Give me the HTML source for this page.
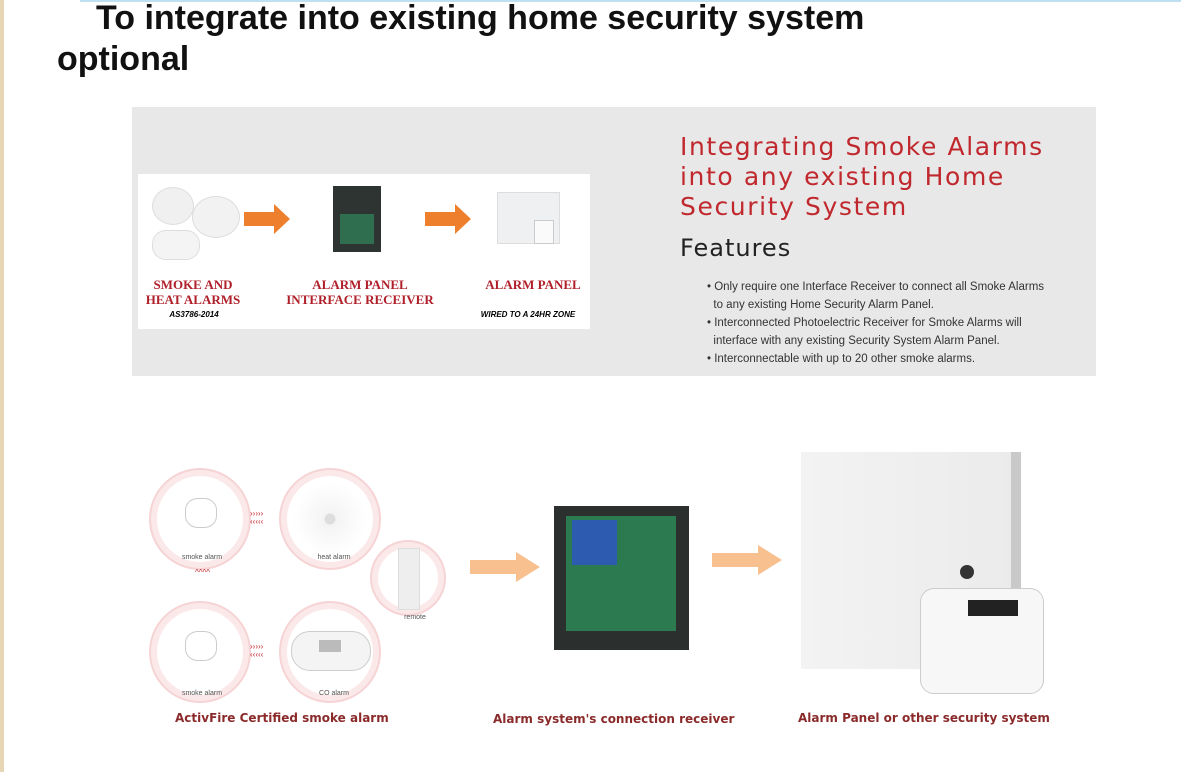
<!DOCTYPE html>
<html><head><meta charset="utf-8"><style>
body{margin:0;width:1181px;height:772px;background:#fff;position:relative;overflow:hidden;font-family:"Liberation Sans",sans-serif}
.a{position:absolute}
.t{font-weight:bold;font-size:34px;color:#111}
.red{color:#c0282d}
.cap{font-size:12px;font-weight:bold;color:#8b2a2a;font-family:"DejaVu Sans","Liberation Sans",sans-serif}
.circ{position:absolute;border-radius:50%;background:#fff;box-shadow:0 0 0 6px #fbe9ea,0 0 0 8px #f6d3d5}
.lbl{position:absolute;font-size:7px;color:#555;width:100px;text-align:center}
.ser{font-family:"Liberation Serif",serif;font-weight:bold;color:#b0202a;font-size:13px;text-align:center}
.bul{font-size:11.5px;color:#333;line-height:18px}
</style></head><body>
<div class="a" style="left:0;top:0;width:4px;height:772px;background:#e6d6b6"></div>
<div class="a" style="left:80px;top:0;width:1101px;height:2px;background:#bfe0f0"></div>
<div class="a t" style="left:96px;top:-1px">To integrate into existing home security system</div>
<div class="a t" style="left:57px;top:40px">optional</div>

<div class="a" style="left:132px;top:107px;width:964px;height:269px;background:#e8e8e8"></div>
<div class="a" style="left:138px;top:174px;width:452px;height:155px;background:#fff"></div>
<div class="a" style="left:152px;top:187px;width:40px;height:36px;border-radius:50%;background:#f0f0f0;border:1px solid #ddd"></div>
<div class="a" style="left:192px;top:196px;width:46px;height:40px;border-radius:50%;background:#f2f2f2;border:1px solid #ddd"></div>
<div class="a" style="left:152px;top:230px;width:46px;height:28px;border-radius:14px;background:#f4f4f4;border:1px solid #ddd"></div>
<svg class="a" style="left:244px;top:204px" width="48" height="30"><polygon points="0,8 30,8 30,0 46,15 30,30 30,22 0,22" fill="#ee7f2d"/></svg>
<svg class="a" style="left:425px;top:204px" width="48" height="30"><polygon points="0,8 30,8 30,0 46,15 30,30 30,22 0,22" fill="#ee7f2d"/></svg>
<div class="a" style="left:333px;top:186px;width:48px;height:66px;background:#2d3432"></div>
<div class="a" style="left:340px;top:214px;width:34px;height:30px;background:#2f6f4f"></div>
<div class="a" style="left:497px;top:192px;width:61px;height:50px;background:#eef0f2;border:1px solid #ddd"></div>
<div class="a" style="left:534px;top:220px;width:18px;height:22px;background:#fafafa;border:1px solid #ccc"></div>
<div class="a ser" style="left:138px;top:277px;width:110px;line-height:15px">SMOKE AND<br>HEAT ALARMS</div>
<div class="a" style="left:138px;top:310px;width:112px;text-align:center;font-size:8px;font-weight:bold;font-style:italic">AS3786-2014</div>
<div class="a ser" style="left:276px;top:277px;width:168px;line-height:15px">ALARM PANEL<br>INTERFACE RECEIVER</div>
<div class="a ser" style="left:478px;top:277px;width:110px">ALARM PANEL</div>
<div class="a" style="left:468px;top:310px;width:120px;text-align:center;font-size:8px;font-weight:bold;font-style:italic">WIRED TO A 24HR ZONE</div>

<div class="a red" style="left:680px;top:132px;font-size:25px;line-height:30px;letter-spacing:1.6px;font-family:'DejaVu Sans',sans-serif">Integrating Smoke Alarms<br>into any existing Home<br>Security System</div>
<div class="a" style="left:680px;top:234px;font-size:24px;color:#222;letter-spacing:1px;font-family:'DejaVu Sans',sans-serif">Features</div>
<div class="a bul" style="left:707px;top:278px;width:380px">
• Only require one Interface Receiver to connect all Smoke Alarms<br>&nbsp;&nbsp;to any existing Home Security Alarm Panel.<br>
• Interconnected Photoelectric Receiver for Smoke Alarms will<br>&nbsp;&nbsp;interface with any existing Security System Alarm Panel.<br>
• Interconnectable with up to 20 other smoke alarms.</div>

<div class="circ" style="left:157px;top:476px;width:86px;height:86px"></div>
<div class="circ" style="left:287px;top:476px;width:86px;height:86px;background:radial-gradient(circle,#ddd 8%,#f4f4f4 10%,#fff 60%)"></div>
<div class="circ" style="left:157px;top:609px;width:86px;height:86px"></div>
<div class="circ" style="left:287px;top:609px;width:86px;height:86px"></div>
<div class="circ" style="left:378px;top:548px;width:60px;height:60px"></div>
<div class="a" style="left:398px;top:548px;width:20px;height:60px;background:#eee;border:1px solid #ddd"></div>
<div class="a" style="left:185px;top:498px;width:30px;height:28px;border:1px solid #ccc;border-radius:40%"></div>
<div class="a" style="left:185px;top:631px;width:30px;height:28px;border:1px solid #ccc;border-radius:40%"></div>
<div class="a" style="left:291px;top:631px;width:78px;height:38px;border-radius:19px;background:#f4f4f4;border:1px solid #ccc"></div>
<div class="a" style="left:319px;top:640px;width:22px;height:12px;background:#bbb"></div>
<div class="a red" style="left:250px;top:510px;font-size:8px;line-height:8px">›››››<br>‹‹‹‹‹</div>
<div class="a red" style="left:250px;top:643px;font-size:8px;line-height:8px">›››››<br>‹‹‹‹‹</div>
<div class="a red" style="left:195px;top:570px;font-size:8px;line-height:6px;width:10px">^^^^</div>
<div class="lbl" style="left:152px;top:554px">smoke alarm</div>
<div class="lbl" style="left:284px;top:554px">heat alarm</div>
<div class="lbl" style="left:152px;top:690px">smoke alarm</div>
<div class="lbl" style="left:284px;top:690px">CO alarm</div>
<div class="lbl" style="left:365px;top:614px">remote</div>
<div class="a cap" style="left:175px;top:711px">ActivFire Certified smoke alarm</div>

<svg class="a" style="left:470px;top:552px" width="72" height="30"><polygon points="0,8 46,8 46,0 70,15 46,30 46,22 0,22" fill="#f8c08f"/></svg>
<div class="a" style="left:554px;top:506px;width:135px;height:144px;background:#2b2f2e"></div>
<div class="a" style="left:566px;top:516px;width:110px;height:115px;background:#2c7a4f"></div>
<div class="a" style="left:572px;top:520px;width:45px;height:45px;background:#2d5bb0"></div>
<div class="a cap" style="left:493px;top:712px">Alarm system's connection receiver</div>

<svg class="a" style="left:712px;top:545px" width="72" height="30"><polygon points="0,8 46,8 46,0 70,15 46,30 46,22 0,22" fill="#f8c08f"/></svg>
<div class="a" style="left:801px;top:452px;width:210px;height:217px;background:linear-gradient(90deg,#f3f3f3,#ebebeb)"></div>
<div class="a" style="left:1011px;top:452px;width:10px;height:215px;background:#c9c9c9"></div>
<div class="a" style="left:960px;top:565px;width:14px;height:14px;border-radius:50%;background:#333"></div>
<div class="a" style="left:920px;top:588px;width:122px;height:104px;background:#f7f7f7;border:1px solid #ccc;border-radius:14px"></div>
<div class="a" style="left:968px;top:600px;width:50px;height:16px;background:#222"></div>
<div class="a cap" style="left:798px;top:711px">Alarm Panel or other security system</div>
</body></html>
